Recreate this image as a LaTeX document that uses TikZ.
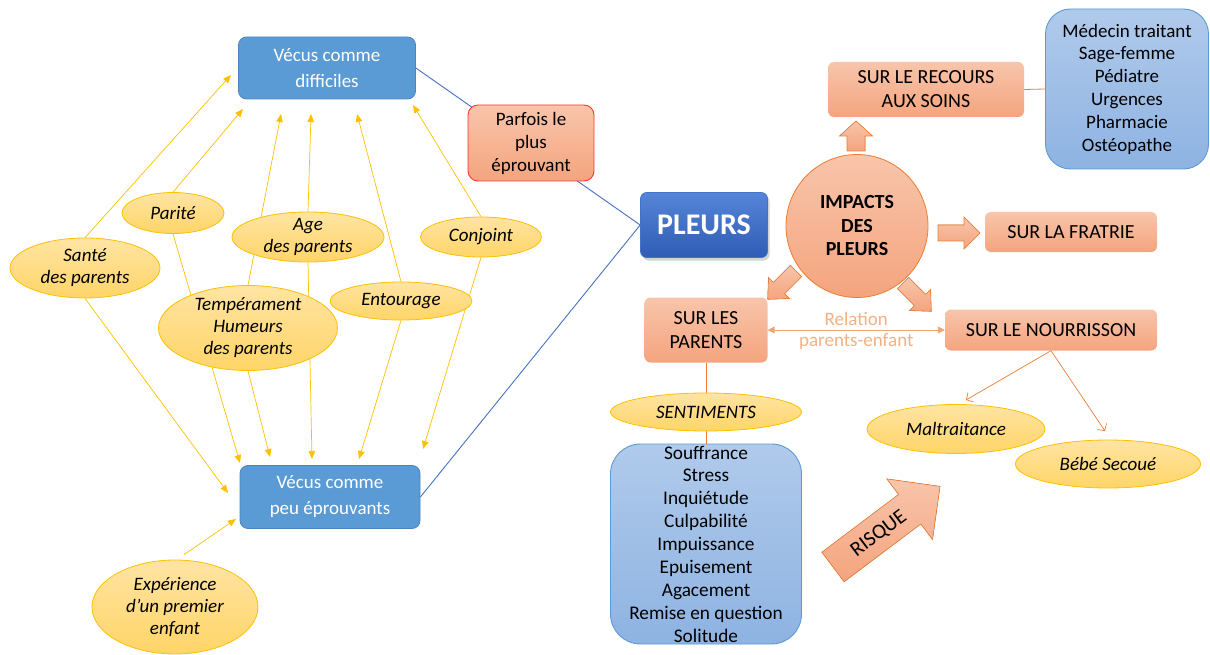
\documentclass[tikz,border=0pt]{standalone}
\usepackage{fontspec}
\setmainfont{Carlito}
\usetikzlibrary{shapes.geometric,arrows.meta,shadows,calc}
\pgfdeclarelayer{bg}
\pgfsetlayers{bg,main}
\definecolor{yfillA}{HTML}{FFE4A3}
\definecolor{yfillB}{HTML}{FFD567}
\definecolor{ydraw}{HTML}{FFC000}
\definecolor{salA}{HTML}{F8C5AB}
\definecolor{salB}{HTML}{F4A47E}
\definecolor{orng}{HTML}{ED7D31}
\definecolor{relcol}{HTML}{F4A46F}
\definecolor{reltxt}{HTML}{F4B183}
\definecolor{bluebox}{HTML}{5B9BD5}
\definecolor{blueboxd}{HTML}{4A84C2}
\definecolor{lblueA}{HTML}{B0CAEB}
\definecolor{lblueB}{HTML}{8EB3E2}
\definecolor{pleurA}{HTML}{5585D8}
\definecolor{pleurB}{HTML}{2F5CB5}
\definecolor{lineblue}{HTML}{4472C4}
\definecolor{redb}{HTML}{FF3333}
\tikzset{
  pics/barrow/.style n args={4}{code={
    \filldraw[barrowst] (0,#4) -- ({#1-#2},#4) -- ({#1-#2},#3) -- (#1,0)
      -- ({#1-#2},-#3) -- ({#1-#2},-#4) -- (0,-#4) -- cycle;}},
}
\begin{document}
\begin{tikzpicture}[x=1pt,y=-1pt,
  every node/.style={font=\fontsize{19}{22.8}\selectfont, inner sep=0pt, align=center},
  vecus/.style={rectangle, rounded corners=8pt, fill=bluebox, draw=blueboxd, line width=0.8pt,
    text=white, font=\fontsize{19}{26}\selectfont},
  parfois/.style={rectangle, rounded corners=10pt, top color=salA, bottom color=salB,
    draw=redb, line width=0.9pt, font=\fontsize{19}{23}\selectfont},
  pleursbox/.style={rectangle, rounded corners=6pt, top color=pleurA, bottom color=pleurB,
    draw=lineblue, line width=0.6pt, text=white, font=\fontsize{30}{32}\selectfont\bfseries,
    drop shadow={shadow xshift=2pt, shadow yshift=-3pt, opacity=0.35}},
  salbox/.style={rectangle, rounded corners=6pt, top color=salA, bottom color=salB,
    font=\fontsize{20}{24}\selectfont},
  impacts/.style={ellipse, top color=salA, bottom color=salB, draw=orng, line width=0.8pt,
    font=\fontsize{20}{23.5}\selectfont\bfseries},
  lblue/.style={rectangle, rounded corners=#1, top color=lblueA, bottom color=lblueB,
    draw=bluebox, line width=0.9pt},
  ylab/.style={font=\fontsize{19}{22}\selectfont\itshape, align=center},
  yell/.style={ellipse, top color=yfillA, bottom color=yfillB, draw=ydraw, line width=0.8pt,
    label={[ylab]center:{#1}}},
  yarr/.style={draw=ydraw, line width=0.7pt, -{Triangle[length=8pt,width=6.5pt]}},
  bline/.style={draw=lineblue, line width=0.9pt},
  oline/.style={draw=orng, line width=0.8pt},
  oarr/.style={draw=orng, line width=0.7pt, -{Straight Barb[length=5pt,width=11pt]}},
  relarr/.style={draw=relcol, line width=0.8pt,
    {Triangle[length=7pt,width=7pt]}-{Triangle[length=7pt,width=7pt]}},
  barrowst/.style={top color=salA, bottom color=salB, draw=orng, line width=0.6pt},
]
\useasboundingbox (0,0) rectangle (1210,655);

% ---------- left part ----------
\node[vecus, minimum width=177, minimum height=62] (vd) at (327,68) {Vécus comme\\difficiles};
\node[vecus, minimum width=180, minimum height=63] (vp) at (330,497) {Vécus comme\\peu éprouvants};
\node[parfois, minimum width=126, minimum height=76] (parfois) at (531,143) {Parfois le\\plus\\éprouvant};
\node[pleursbox, minimum width=127, minimum height=65] (pleurs) at (704,225) {PLEURS};

\node[yell={Santé\\des parents}, minimum width=150, minimum height=60] (sante) at (85,268) {};
\node[yell={Parité}, minimum width=102, minimum height=41] (parite) at (173,213) {};
\node[yell={Age\\des parents}, minimum width=152, minimum height=50] (age) at (308,237) {};
\node[yell={Conjoint}, minimum width=121, minimum height=40] (conjoint) at (481,237) {};
\node[yell={Tempérament\\Humeurs\\des parents}, minimum width=179, minimum height=85] (temp) at (248,328) {};
\node[yell={Entourage}, minimum width=142, minimum height=38] (entourage) at (401,301) {};
\node[yell={Expérience\\d’un premier\\enfant}, minimum width=166, minimum height=94] (exp) at (175,607) {};

% free ends of the yellow arrows
\coordinate (u1) at (231,75);
\coordinate (u2) at (243,109);
\coordinate (u3) at (281,114);
\coordinate (u4) at (311,114);
\coordinate (u5) at (357,114);
\coordinate (u6) at (413,105);
\coordinate (d1) at (228,493);
\coordinate (d2) at (240,463);
\coordinate (d3) at (270,457);
\coordinate (d4) at (312,459);
\coordinate (d5) at (359,459);
\coordinate (d6) at (423,449);
\coordinate (d7) at (236,519);

% ---------- right part ----------
\node[impacts, minimum width=142, minimum height=143] (impacts) at (857,226) {IMPACTS\\DES\\PLEURS};
\node[salbox, minimum width=196, minimum height=55] (recours) at (926,89.5) {SUR LE RECOURS\\AUX SOINS};
\node[lblue=25pt, minimum width=163, minimum height=160] (medecin) at (1127,89)
  {Médecin traitant\\Sage-femme\\Pédiatre\\Urgences\\Pharmacie\\Ostéopathe};
\node[salbox, minimum width=172, minimum height=40] (fratrie) at (1071,232) {SUR LA FRATRIE};
\node[salbox, minimum width=123, minimum height=65] (parents) at (706,330) {SUR LES\\PARENTS};
\node[salbox, minimum width=212, minimum height=41] (nourr) at (1051,330) {SUR LE NOURRISSON};
\node[yell={SENTIMENTS}, minimum width=191, minimum height=38] (sentiments) at (706,412) {};
\node[lblue=30pt, minimum width=191, minimum height=200, font=\fontsize{19.3}{22.9}\selectfont] (liste) at (706,544)
  {Souffrance\\Stress\\Inquiétude\\Culpabilité\\Impuissance\\Epuisement\\Agacement\\Remise en question\\Solitude};
\node[yell={Maltraitance}, minimum width=178, minimum height=49] (malt) at (956,429) {};
\node[yell={Bébé Secoué}, minimum width=185, minimum height=48] (bebe) at (1108,464) {};

\coordinate (m1) at (966,400);
\coordinate (m2) at (1105,431);

% block arrows
\pic[rotate=90] at (856,151) {barrow={30}{15}{16.5}{9}};
\pic at (938,233) {barrow={42}{16}{16}{8}};
\pic[rotate=225] at (796,271) {barrow={40}{16}{15}{8}};
\pic[rotate=-45] at (903,283) {barrow={40}{16}{15}{8}};
\pic[rotate=37] at (833,567) {barrow={134}{38}{38}{18.5}};
\node[rotate=37, font=\fontsize{21}{24}\selectfont] (risque) at (879,534) {RISQUE};

% ---------- connectors ----------
\begin{pgfonlayer}{bg}
  \draw[bline] (vd.east) -- (pleurs.west);
  \draw[bline] (pleurs.west) -- (vp.east);

  \draw[yarr] (sante.north) -- (u1);
  \draw[yarr] (parite.north) -- (u2);
  \draw[yarr] (temp.north) -- (u3);
  \draw[yarr] (age.north) -- (u4);
  \draw[yarr] (entourage.north) -- (u5);
  \draw[yarr] (conjoint.north) -- (u6);

  \draw[yarr] (sante.south) -- (d1);
  \draw[yarr] (parite.south) -- (d2);
  \draw[yarr] (temp.south) -- (d3);
  \draw[yarr] (age.south) -- (d4);
  \draw[yarr] (entourage.south) -- (d5);
  \draw[yarr] (conjoint.south) -- (d6);
  \draw[yarr] ($(exp.north)+(9,-5)$) -- (d7);

  \draw[oline] (recours.east) -- (medecin.west);
  \draw[oline] (parents.south) -- (sentiments.north);
  \draw[oline] (sentiments.south) -- (liste.north);
  \draw[oarr] (nourr.south) -- (m1);
  \draw[oarr] (nourr.south) -- (m2);
\end{pgfonlayer}
\draw[relarr] (parents.east) -- (nourr.west)
  node[midway, above=4pt, text=reltxt] {Relation}
  node[midway, below=3pt, text=reltxt] {parents-enfant};
\end{tikzpicture}
\end{document}
